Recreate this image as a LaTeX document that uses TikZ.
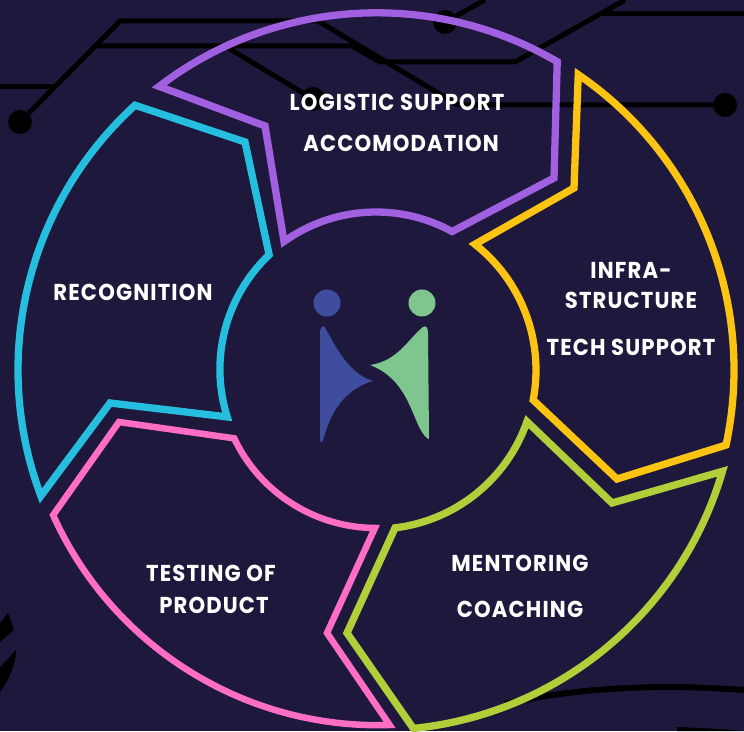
\documentclass[tikz,border=0pt]{standalone}
\usepackage{fontspec}
\setmainfont{Poppins}[FakeStretch=0.92, LetterSpace=5]
\usetikzlibrary{calc, positioning}
\definecolor{bgnavy}{HTML}{1E183D}
\definecolor{segpurple}{HTML}{A060E0}
\definecolor{segyellow}{HTML}{FBC312}
\definecolor{seggreen}{HTML}{B0CF38}
\definecolor{segpink}{HTML}{FF6EC4}
\definecolor{segcyan}{HTML}{26BEDF}
\definecolor{logoblue}{HTML}{3F4D9F}
\definecolor{logogreen}{HTML}{7EC68D}
\tikzset{
  segline/.style={line width=7.3pt, line join=miter, miter limit=12},
  trace/.style={line width=5pt, black},
  tracedot/.style={circle, fill=black, inner sep=0pt, minimum size=24pt},
  seglabel/.style={text=white, font=\fontsize{23}{25}\selectfont\bfseries, inner sep=0pt}
}
\begin{document}
\begin{tikzpicture}[x=1pt, y=1pt]
    % Background
    \fill[bgnavy] (0,0) rectangle (744,731);
    \useasboundingbox (0,0) rectangle (744,731);
    \coordinate (cen) at (376,361);

    % Circuit traces
    \node[tracedot] (dotleft) at (20,609) {};
    \node[tracedot] (dotmid) at (313,632) {};
    \node[tracedot] (dottop) at (445,709) {};
    \node[tracedot] (dotright) at (725,626) {};
    \draw[trace] (dotleft) -- (120,710) -- (318,710) -- (458,626) -- (dotright);
    \draw[trace] (0,644) -- (53,644);
    \draw[trace] (97,685) -- (352,685) -- (380,669) -- (515,669) -- (625,731);
    \draw[trace] (225,685) -- (dotmid);
    \draw[trace] (dottop) -- (485,731);
    \draw[trace] (602,717) -- (744,717);

    % Bottom swooshes
    \draw[line width=6pt, black] (505,27) .. controls (570,42) and (650,48) .. (744,41);
    \fill[black] (677,4) .. controls (700,3) and (725,2) .. (744,0) -- (677,0) -- cycle;
    \fill[black] (8,118) -- (14,101) -- (0,89) -- (0,108) -- cycle;
    \fill[black] (16,81) .. controls (16,65) and (8,50) .. (0,39) -- (0,64) -- cycle;

    % Logistic segment
    \draw[segline, segpurple] ($(cen)+(127.4:357)$) arc[start angle=127.4, end angle=59.7, radius=358]
        -- (554,553) -- ($(cen)+(61.2:158)$) arc[start angle=61.2, end angle=125.6, radius=158]
        -- (265,605) -- cycle;

    % Infrastructure segment
    \draw[segline, segyellow] ($(cen)+(55.6:358)$) arc[start angle=55.6, end angle=-12.1, radius=358]
        -- (617,252) -- ($(cen)+(-10.8:160)$) arc[start angle=-10.8, end angle=51.8, radius=160]
        -- (574,543) -- cycle;

    % Mentoring segment
    \draw[segline, seggreen] ($(cen)+(-16.3:361)$) arc[start angle=-16.3, end angle=-84.2, radius=360]
        -- (347,98) -- ($(cen)+(-83.1:159)$) arc[start angle=-83.1, end angle=-19.2, radius=160]
        -- (612,228) -- cycle;

    % Testing segment
    \draw[segline, segpink, line width=6.5pt] ($(cen)+(204.2:354)$) arc[start angle=204.2, end angle=271.9, radius=356]
        -- (327,98) -- ($(cen)+(269.6:158)$) arc[start angle=269.6, end angle=205.4, radius=157]
        -- (119,309) -- cycle;

    % Recognition segment
    \draw[segline, segcyan] ($(cen)+(132.3:358)$) arc[start angle=132.3, end angle=200.6, radius=358]
        -- (110,328) -- ($(cen)+(197.5:156)$) arc[start angle=197.5, end angle=133.5, radius=158]
        -- (245,589) -- cycle;

    % Labels
    \node[seglabel] (logistic) at (397,629) {LOGISTIC SUPPORT};
    \node[seglabel] (accomodation) at (401,588) {ACCOMODATION};
    \node[seglabel] (infra) at (631,461) {INFRA-};
    \node[seglabel] (structure) at (631,431) {STRUCTURE};
    \node[seglabel] (tech) at (631,384) {TECH SUPPORT};
    \node[seglabel] (mentoring) at (520,168) {MENTORING};
    \node[seglabel] (coaching) at (520,122) {COACHING};
    \node[seglabel] (testing) at (211,158) {TESTING OF};
    \node[seglabel] (product) at (214,126) {PRODUCT};
    \node[seglabel] (recognition) at (133,439) {RECOGNITION};

    % Logo
    \node[circle, fill=logoblue, inner sep=0pt, minimum size=27pt] (headblue) at (327,428) {};
    \node[circle, fill=logogreen, inner sep=0pt, minimum size=27pt] (headgreen) at (422,428) {};
    \fill[logoblue] (320,398) .. controls (320,403) and (322,405) .. (324,405)
        .. controls (332,392) and (346,358) .. (373,350)
        .. controls (345,342) and (330,319) .. (323,290)
        .. controls (322,288) and (320,288) .. (320,292) -- cycle;
    \fill[logogreen] (428,398) -- (429,294) .. controls (429,291) and (428,291) .. (427,293)
        .. controls (412,305) and (412,350) .. (370,366)
        .. controls (398,370) and (408,392) .. (423,404)
        .. controls (426,406) and (428,403) .. (428,398) -- cycle;
\end{tikzpicture}
\end{document}
